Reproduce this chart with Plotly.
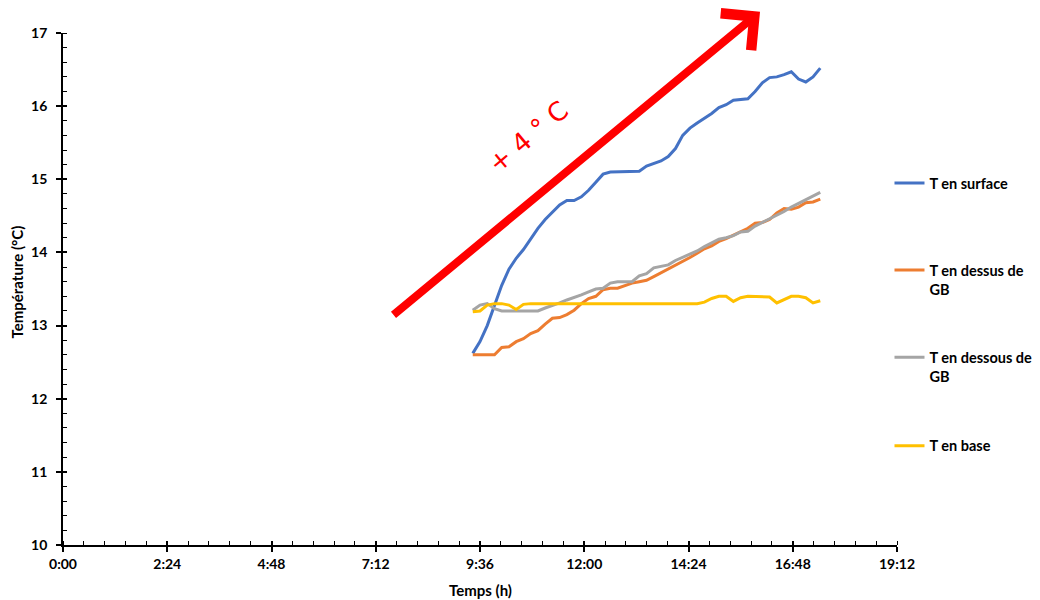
import plotly.graph_objects as go

# ---------------- data ----------------
times = ["9:26", "9:36", "9:46", "9:56",
         "10:06", "10:16", "10:26", "10:36", "10:46", "10:56",
         "11:06", "11:16", "11:26", "11:36", "11:46", "11:56",
         "12:06", "12:16", "12:26", "12:36", "12:46", "12:56",
         "13:06", "13:16", "13:26", "13:36", "13:46", "13:56",
         "14:06", "14:16", "14:26", "14:36", "14:46", "14:56",
         "15:06", "15:16", "15:26", "15:36", "15:46", "15:56",
         "16:06", "16:16", "16:26", "16:36", "16:46", "16:56",
         "17:06", "17:16", "17:26"]

t_surface = [12.62, 12.78, 13.0, 13.27, 13.55, 13.77, 13.92, 14.04, 14.18, 14.33,
             14.45, 14.55, 14.65, 14.71, 14.71, 14.76, 14.85, 14.96, 15.07, 15.1,
             15.1, 15.1, 15.1, 15.11, 15.18, 15.21, 15.25, 15.31, 15.42, 15.6,
             15.7, 15.77, 15.83, 15.9, 15.98, 16.02, 16.08, 16.09, 16.1, 16.2,
             16.32, 16.39, 16.4, 16.43, 16.47, 16.37, 16.33, 16.4, 16.52]

t_dessus = [12.6, 12.6, 12.6, 12.6, 12.7, 12.71, 12.78, 12.82, 12.89, 12.93,
            13.02, 13.1, 13.11, 13.15, 13.21, 13.3, 13.37, 13.4, 13.49, 13.51,
            13.51, 13.55, 13.58, 13.6, 13.62, 13.67, 13.72, 13.77, 13.82, 13.87,
            13.93, 13.99, 14.05, 14.09, 14.15, 14.19, 14.24, 14.29, 14.33, 14.4,
            14.41, 14.45, 14.54, 14.6, 14.59, 14.62, 14.68, 14.69, 14.73]

t_dessous = [13.21, 13.28, 13.3, 13.23, 13.2, 13.2, 13.2, 13.2, 13.2, 13.2,
             13.24, 13.27, 13.31, 13.35, 13.38, 13.42, 13.46, 13.5, 13.51, 13.58,
             13.6, 13.6, 13.6, 13.68, 13.71, 13.79, 13.81, 13.83, 13.89, 13.93,
             13.97, 14.02, 14.08, 14.13, 14.18, 14.2, 14.23, 14.28, 14.29, 14.36,
             14.41, 14.46, 14.5, 14.56, 14.62, 14.67, 14.72, 14.78, 14.82]

t_base = [13.19, 13.2, 13.28, 13.3, 13.3, 13.28, 13.22, 13.29, 13.3, 13.3,
          13.3, 13.3, 13.3, 13.3, 13.3, 13.3, 13.3, 13.3, 13.3, 13.3,
          13.3, 13.3, 13.3, 13.3, 13.3, 13.3, 13.3, 13.3, 13.3, 13.3,
          13.3, 13.3, 13.32, 13.37, 13.4, 13.4, 13.33, 13.38, 13.4, 13.4,
          13.4, 13.39, 13.31, 13.36, 13.4, 13.4, 13.38, 13.31, 13.34]

series_names = ["T en surface", "T en dessus de<br>GB", "T en dessous de<br>GB", "T en base"]
series_colors = ["#4472C4", "#ED7D31", "#A5A5A5", "#FFC000"]

x_tick_labels = ["0:00", "2:24", "4:48", "7:12", "9:36", "12:00", "14:24", "16:48", "19:12"]
y_tick_values = [10, 11, 12, 13, 14, 15, 16, 17]

x_title = "Temps (h)"
y_title = "Température (°C)"

# arrow (start and end, in axis units: day fraction, °C)
arrow_tail = (0.3156, 13.13)
arrow_tip = (0.6686, 17.29)
arrow_label = "+ 4 ° C"
arrow_label_pos = (0.446, 15.58)


def to_day(hm):
    h, m = hm.split(":")
    return (int(h) + int(m) / 60.0) / 24.0


x_days = [to_day(t) for t in times]
x_tick_vals = [to_day(t) for t in x_tick_labels]

FONT = "Lato"
BLACK = "#000000"

fig = go.Figure()
legend_ids = ["legend", "legend2", "legend3", "legend4"]
for name, vals, col, lg in zip(series_names, [t_surface, t_dessus, t_dessous, t_base],
                               series_colors, legend_ids):
    fig.add_trace(go.Scatter(x=x_days, y=vals, mode="lines", name=name,
                             line=dict(color=col, width=3), legend=lg))

# empty trace to bind the overlay axes (inner half of the major ticks)
fig.add_trace(go.Scatter(x=[], y=[], xaxis="x2", yaxis="y2", showlegend=False,
                         hoverinfo="skip"))

legend_y = [0.738, 0.568, 0.398, 0.225]
leg_common = dict(x=0.991, xanchor="left", yanchor="top", valign="top",
                  bgcolor="rgba(0,0,0,0)",
                  font=dict(family=FONT, size=14.5, color=BLACK, weight="bold"))
fig.update_layout(
    legend=dict(y=legend_y[0], **leg_common),
    legend2=dict(y=legend_y[1], **leg_common),
    legend3=dict(y=legend_y[2], **leg_common),
    legend4=dict(y=legend_y[3], **leg_common),
)

axis_font = dict(family=FONT, size=14, color=BLACK, weight="bold")
fig.update_layout(
    xaxis=dict(range=[0, 0.8], tickvals=x_tick_vals, ticktext=x_tick_labels,
               showgrid=False, zeroline=False, showline=True, linecolor=BLACK,
               linewidth=1.75, ticks="outside", ticklen=5, tickwidth=1.5, tickcolor=BLACK,
               minor=dict(dtick=0.02, ticks="inside", ticklen=4, tickwidth=1.2,
                          tickcolor=BLACK, showgrid=False),
               tickfont=axis_font, automargin=False),
    yaxis=dict(range=[10, 17], tickvals=y_tick_values,
               showgrid=False, zeroline=False, showline=True, linecolor=BLACK,
               linewidth=1.75, ticks="outside", ticklen=5, tickwidth=1.5, tickcolor=BLACK,
               minor=dict(dtick=0.2, ticks="inside", ticklen=4, tickwidth=1.2,
                          tickcolor=BLACK, showgrid=False),
               tickfont=axis_font, ticklabelstandoff=6, automargin=False),
    xaxis2=dict(range=[0, 0.8], overlaying="x", tickvals=x_tick_vals, showticklabels=False,
                showgrid=False, zeroline=False, showline=False, ticks="inside", ticklen=4,
                tickwidth=1.5, tickcolor=BLACK, automargin=False),
    yaxis2=dict(range=[10, 17], overlaying="y", tickvals=y_tick_values, showticklabels=False,
                showgrid=False, zeroline=False, showline=False, ticks="inside", ticklen=4,
                tickwidth=1.5, tickcolor=BLACK, automargin=False),
)

# axis titles
fig.add_annotation(x=0.5, y=-0.088, xref="paper", yref="paper", text=x_title,
                   showarrow=False, xanchor="center", yanchor="middle",
                   font=dict(family=FONT, size=15, color=BLACK, weight="bold"))
fig.add_annotation(x=-0.055, y=0.513, xref="paper", yref="paper", text=y_title,
                   showarrow=False, xanchor="center", yanchor="middle", textangle=-90,
                   font=dict(family=FONT, size=15, color=BLACK, weight="bold"))

# red arrow and label
fig.add_annotation(x=arrow_tip[0], y=arrow_tip[1], xref="x", yref="y",
                   ax=arrow_tail[0], ay=arrow_tail[1], axref="x", ayref="y",
                   text="", showarrow=True, arrowhead=4, arrowsize=1.15, arrowwidth=8,
                   arrowcolor="#FF0000", standoff=0)
fig.add_annotation(x=arrow_label_pos[0], y=arrow_label_pos[1], xref="x", yref="y",
                   text=arrow_label, showarrow=False, textangle=-40,
                   font=dict(family="DejaVu Sans", size=26, color="#FF0000"))

# the page adds an 8 px body margin, so the figure is 8 px smaller each way
fig.update_layout(width=1032, height=592, plot_bgcolor="#FFFFFF", paper_bgcolor="#FFFFFF",
                  margin=dict(l=55, r=143, t=25, b=55, autoexpand=False), showlegend=True)

fig.write_html("out.html")
